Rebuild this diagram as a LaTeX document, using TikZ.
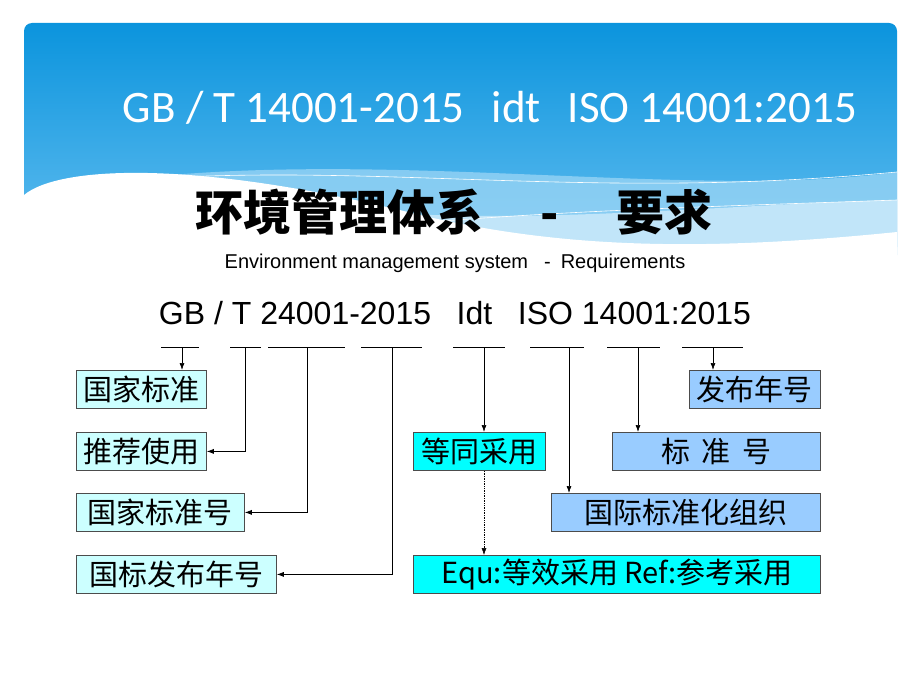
\documentclass[tikz,border=0pt]{standalone}
\usepackage{fontspec}
\setmainfont{Liberation Sans}
\newfontfamily\cjk{Noto Sans CJK SC}
\newfontfamily\titlefont{Carlito}
\usetikzlibrary{positioning,arrows.meta}
\definecolor{bannerTop}{HTML}{0B94DD}
\definecolor{bannerLow}{HTML}{63BEF0}
\definecolor{paleCyan}{HTML}{CCFFFF}
\definecolor{fullCyan}{HTML}{00FFFF}
\definecolor{skyBox}{HTML}{99CCFF}
\tikzset{
  lbl/.style={draw=black!70, line width=0.8pt, anchor=north west, inner sep=0pt,
    font=\cjk\fontsize{29}{29}\selectfont},
  uline/.style={line width=0.7pt},
  feed/.style={-{Latex[length=7pt,width=5pt]}, line width=0.7pt},
}
\begin{document}
\begin{tikzpicture}[x=1pt,y=-1pt]
\useasboundingbox (0,0) rectangle (920,690);
% banner
\shade[top color=bannerTop, bottom color=bannerLow, rounded corners=8pt]
  (24,23) rectangle (897,255);
\fill[white!40!bannerLow, opacity=0.7] (140,178) .. controls (400,150) and (700,200) .. (897,172)
  -- (897,255) -- (140,255) -- cycle;
\fill[white!60!bannerLow] (300,205) .. controls (500,230) and (700,205) .. (897,200)
  -- (897,255) -- (300,255) -- cycle;
\fill[white] (24,195) .. controls (60,165) and (200,160) .. (420,215)
  .. controls (560,248) and (700,252) .. (897,232) -- (897,260) -- (24,260) -- cycle;
\draw[white, line width=0.6pt] (160,178) .. controls (400,165) and (600,200) .. (897,172);
\draw[white, line width=0.6pt] (330,232) .. controls (500,212) and (700,207) .. (897,200);
% titles
\node[text=white, font=\titlefont\fontsize{45}{45}\selectfont] (std) at (490,108)
  {GB / T 14001-2015\hspace{0.6em}idt\hspace{0.6em}ISO 14001:2015};
\node[font=\cjk\bfseries\fontsize{48}{48}\selectfont] (cn) at (454,212)
  {环境管理体系\hspace{1.2em}-\hspace{1.2em}要求};
\node[font=\fontsize{20}{20}\selectfont] (en) at (455,263)
  {Environment management system\hspace{0.8em}-\hspace{0.5em}Requirements};
\node[font=\fontsize{32}{32}\selectfont] (code) at (455,313)
  {GB / T 24001-2015\hspace{0.8em}Idt\hspace{0.8em}ISO 14001:2015};
% boxes
\node[lbl, fill=paleCyan, minimum width=130pt, minimum height=38pt] (gjbz) at (76,370) {国家标准};
\node[lbl, fill=paleCyan, minimum width=130pt, minimum height=38pt] (tjsy) at (76,432) {推荐使用};
\node[lbl, fill=paleCyan, minimum width=168pt, minimum height=38pt] (gjbzh) at (76,493) {国家标准号};
\node[lbl, fill=paleCyan, minimum width=200pt, minimum height=38pt] (gbnh) at (76,555) {国标发布年号};
\node[lbl, fill=fullCyan, minimum width=132pt, minimum height=38pt] (dtcy) at (413,432) {等同采用};
\node[lbl, fill=fullCyan, minimum width=407pt, minimum height=38pt] (equ) at (413,555)
  {Equ:等效采用 Ref:参考采用};
\node[lbl, fill=skyBox, minimum width=131pt, minimum height=38pt] (fbnh) at (689,370) {发布年号};
\node[lbl, fill=skyBox, minimum width=208pt, minimum height=38pt] (bzh) at (612,432) {标\hspace{0.4em}准\hspace{0.4em}号};
\node[lbl, fill=skyBox, minimum width=269pt, minimum height=38pt] (iso) at (551,493) {国际标准化组织};
% underlines
\foreach \a/\b in {161/199, 230/261, 268/345, 361/422,
                   453/505, 530/584, 607/660, 682/743}
  \draw[uline] (\a,347) -- (\b,347);
\coordinate (u1) at (182,347);
\coordinate (u2) at (245,347);
\coordinate (u3) at (307,347);
\coordinate (u4) at (392,347);
\coordinate (u5) at (484,347);
\coordinate (u6) at (569,347);
\coordinate (u7) at (638,347);
\coordinate (u8) at (713,347);
% connectors
\draw[feed] (u1) -- (u1 |- gjbz.north);
\draw[feed] (u2) |- (tjsy.east);
\draw[feed] (u3) |- (gjbzh.east);
\draw[feed] (u4) |- (gbnh.east);
\draw[feed] (u5) -- (u5 |- dtcy.north);
\draw[feed] (u6) -- (u6 |- iso.north);
\draw[feed] (u7) -- (u7 |- bzh.north);
\draw[feed] (u8) -- (u8 |- fbnh.north);
\draw[feed, densely dotted, line width=0.5pt] (u5 |- dtcy.south) -- (u5 |- equ.north);
\end{tikzpicture}
\end{document}
